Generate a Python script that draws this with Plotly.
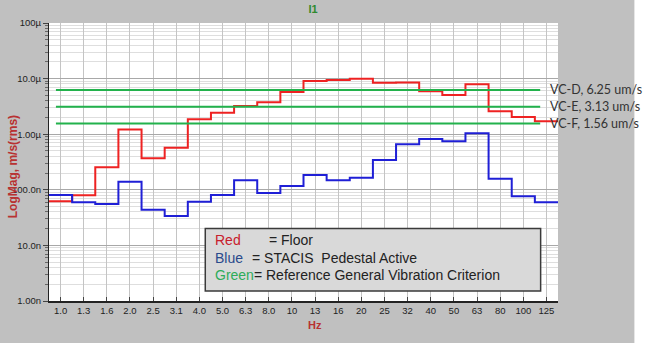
import plotly.graph_objects as go
import numpy as np

# ---------------- data ----------------
bands = ["1.0", "1.3", "1.6", "2.0", "2.5", "3.1", "4.0", "5.0", "6.3", "8.0", "10",
         "13", "16", "20", "25", "32", "40", "50", "63", "80", "100", "125"]
floor_vals = [62e-9, 80e-9, 254e-9, 1.22e-6, 368e-9, 572e-9, 1.85e-6, 2.44e-6, 3.21e-6,
              3.74e-6, 5.74e-6, 9.06e-6, 9.44e-6, 9.96e-6, 8.44e-6, 8.5e-6, 5.9e-6,
              5.07e-6, 7.9e-6, 2.58e-6, 2.04e-6, 1.71e-6]
stacis_vals = [80.6e-9, 59.6e-9, 55.5e-9, 140e-9, 43.9e-9, 33.8e-9, 61e-9, 80.6e-9, 148e-9,
               87.6e-9, 117e-9, 184e-9, 148e-9, 165e-9, 344e-9, 658e-9, 820e-9, 745e-9,
               1.04e-6, 158e-9, 76.4e-9, 59.6e-9]
vc_names = ["VC-D", "VC-E", "VC-F"]
vc_values = [6.25e-6, 3.13e-6, 1.56e-6]
vc_labels = ["VC-D, 6.25 um/s", "VC-E, 3.13 um/s", "VC-F, 1.56 um/s"]
y_major = [1e-9, 1e-8, 1e-7, 1e-6, 1e-5, 1e-4]
y_major_text = ["1.00n", "10.0n", "100.0n", "1.00\u00b5", "10.0\u00b5", "100\u00b5"]

# ---------------- geometry (pixels) ----------------
W, H = 650, 343
L, R, T, B = 45, 558, 23, 301
pw, ph = R - L, B - T

def px(x):
    return (x - L) / pw

def py(y):
    return (B - y) / ph

n = len(bands)
idx = np.arange(n)
edges = np.append(idx - 0.5, n - 0.5)

def step_y(vals):
    return list(vals) + [vals[-1]]

RED = "#ee2222"
BLUE = "#1f1fd6"
GREEN = "#22b24c"
LABEL_RED = "#b83232"

fig = go.Figure()
fig.add_trace(go.Scatter(x=edges, y=step_y(floor_vals), mode="lines",
                         line=dict(color=RED, width=2, shape="hv"),
                         showlegend=False, hoverinfo="skip"))
fig.add_trace(go.Scatter(x=edges, y=step_y(stacis_vals), mode="lines",
                         line=dict(color=BLUE, width=2, shape="hv"),
                         showlegend=False, hoverinfo="skip"))
g_x0, g_x1 = -0.2, 20.73
for lab, v in zip(vc_labels, vc_values):
    fig.add_trace(go.Scatter(x=[g_x0, g_x1], y=[v, v], mode="lines",
                             line=dict(color=GREEN, width=2),
                             showlegend=False, hoverinfo="skip"))
    fig.add_annotation(x=21.07, y=np.log10(v), xref="x", yref="y",
                       text=lab, showarrow=False,
                       xanchor="left", yanchor="middle",
                       font=dict(family="Lato, Open Sans, sans-serif", size=12.5, color="#333333"))

minor_vals = [m * 10.0 ** e for e in range(-9, -4) for m in range(2, 10)]

fig.update_yaxes(type="log", range=[-9, -4],
                 tickmode="array", tickvals=y_major, ticktext=y_major_text,
                 ticks="outside", ticklen=5, tickcolor="#444",
                 showgrid=True, gridcolor="#a8a8a8", gridwidth=1,
                 showline=True, linecolor="#222", linewidth=1,
                 tickfont=dict(family="Liberation Sans Narrow, Liberation Sans, Arial", size=9.5, color="#222"),
                 minor=dict(tickmode="array", tickvals=minor_vals, ticks="outside", ticklen=3,
                            tickcolor="#666", showgrid=True, gridcolor="#dedede", gridwidth=1),
                 zeroline=False, fixedrange=True)
fig.update_xaxes(range=[-0.5, n - 0.5], tickmode="array", tickvals=list(idx), ticktext=bands,
                 ticks="inside", ticklen=4, tickcolor="#444",
                 showgrid=True, gridcolor="#c4c4c4", gridwidth=1,
                 showline=True, linecolor="#222", linewidth=1.5,
                 tickfont=dict(family="Liberation Sans Narrow, Liberation Sans, Arial", size=9.5, color="#222"),
                 zeroline=False, fixedrange=True)

# white strip at the right edge of the image
fig.add_shape(type="rect", xref="paper", yref="paper", x0=px(635), x1=px(660),
              y0=py(-10), y1=py(360), fillcolor="white", line=dict(width=0), layer="below")

# text box
fig.add_shape(type="rect", xref="paper", yref="paper", x0=px(202.5), x1=px(540.5),
              y0=py(291), y1=py(228.5), fillcolor="#d9d9d9",
              line=dict(color="#3a3a3a", width=1.5), layer="above")
FS = 14
box_font = dict(family="Liberation Sans, Arial", size=FS, color="#222222")
fig.add_annotation(xref="paper", yref="paper", x=px(210), y=py(240), text="Red",
                   showarrow=False, xanchor="left", yanchor="middle",
                   font=dict(family="Liberation Sans, Arial", size=FS, color="#c8202c"))
fig.add_annotation(xref="paper", yref="paper", x=px(265), y=py(240), text="= Floor",
                   showarrow=False, xanchor="left", yanchor="middle", font=box_font)
fig.add_annotation(xref="paper", yref="paper", x=px(210), y=py(258), text="Blue",
                   showarrow=False, xanchor="left", yanchor="middle",
                   font=dict(family="Liberation Sans, Arial", size=FS, color="#2a4a8c"))
fig.add_annotation(xref="paper", yref="paper", x=px(248), y=py(258),
                   text="= STACIS  Pedestal Active",
                   showarrow=False, xanchor="left", yanchor="middle", font=box_font)
fig.add_annotation(xref="paper", yref="paper", x=px(210), y=py(275),
                   text="<span style='color:#2eac5a'>Green</span>= Reference General Vibration Criterion",
                   showarrow=False, xanchor="left", yanchor="middle", font=box_font)

# axis titles
fig.add_annotation(xref="paper", yref="paper", x=px(9), y=py(167),
                   text="LogMag, m/s(rms)", textangle=-90,
                   showarrow=False, xanchor="center", yanchor="middle",
                   font=dict(family="Liberation Sans, Arial", size=12, color=LABEL_RED, weight="bold"))
fig.add_annotation(xref="paper", yref="paper", x=px(313), y=py(325), text="Hz",
                   showarrow=False, xanchor="center", yanchor="middle",
                   font=dict(family="Liberation Sans, Arial", size=11, color=LABEL_RED, weight="bold"))

fig.update_layout(
    width=W, height=H,
    margin=dict(l=L, r=W - R, t=T, b=H - B),
    paper_bgcolor="#c0c0c0", plot_bgcolor="white",
    title=dict(text="I1", x=313 / W, xanchor="center", y=1 - 9 / H, yanchor="middle",
               font=dict(family="Liberation Sans, Arial", size=11, color="#2f8a2f", weight="bold")),
    showlegend=False,
)

fig.write_html("out.html", config={"displayModeBar": False})
